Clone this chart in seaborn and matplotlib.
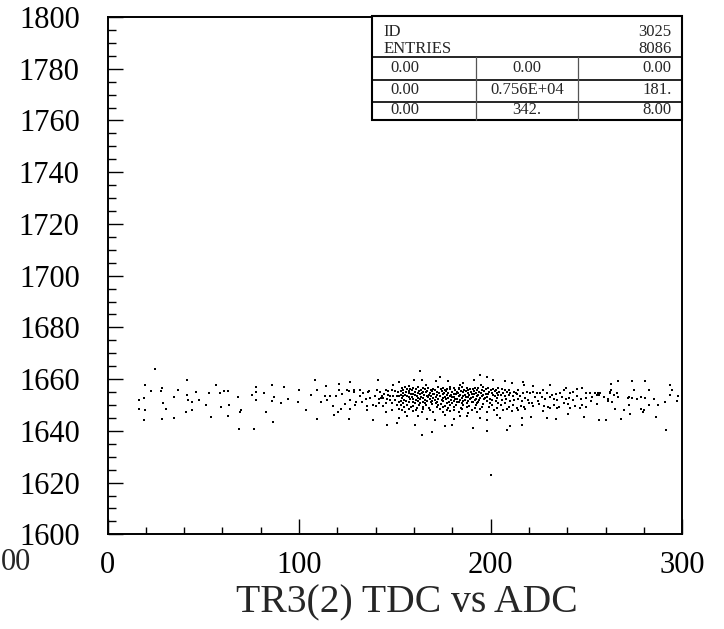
import numpy as np
import pandas as pd
import matplotlib
matplotlib.use("Agg")
import matplotlib.pyplot as plt
from matplotlib.lines import Line2D
from matplotlib.patches import Rectangle
from matplotlib.ticker import MultipleLocator
import seaborn as sns

# --- DATA (ADC, TDC), grouped by x region ---
pts_far_left = [
    (24.8, 1664.0), (41.3, 1659.5), (19.6, 1657.6), (28.3, 1656.4), (22.7, 1655.3),
    (27.8, 1655.5), (36.6, 1655.8), (46.2, 1654.9), (41.7, 1653.8), (34.6, 1653.2),
    (18.9, 1652.8), (16.6, 1652.1), (42.2, 1651.8), (44.1, 1651.3), (47.8, 1652.1),
    (29.2, 1650.8), (30.7, 1648.6), (16.6, 1648.5), (19.6, 1648.2), (44.0, 1648.0),
    (40.8, 1647.1), (34.6, 1644.9), (28.3, 1644.4), (19.1, 1644.1),
]
pts_left = [
    (56.7, 1657.6), (52.8, 1654.5), (58.7, 1654.5), (60.7, 1655.5), (62.9, 1655.5),
    (68.0, 1653.2), (51.4, 1650.1), (59.3, 1649.1), (63.4, 1649.9), (54.0, 1645.5),
    (62.7, 1645.6), (69.7, 1648.0), (69.2, 1647.1), (68.7, 1640.9), (77.5, 1657.1),
    (77.5, 1655.1), (75.5, 1653.7), (77.4, 1651.8), (81.7, 1654.5), (85.9, 1657.6),
    (86.9, 1653.2), (85.9, 1651.5), (92.2, 1657.1), (94.1, 1652.4), (90.4, 1650.6),
    (99.3, 1651.3), (100.2, 1655.8), (82.8, 1647.3), (86.2, 1643.5), (76.5, 1640.6),
]
pts_mid = [
    (108.3, 1659.7), (126.6, 1658.8), (141.2, 1659.7), (114.3, 1657.2), (120.9, 1658.2),
    (106.2, 1654.0), (109.2, 1655.9), (113.7, 1653.3), (116.2, 1653.3), (119.3, 1653.3),
    (121.0, 1655.6), (122.6, 1654.2), (124.9, 1655.9), (126.3, 1655.3), (128.4, 1655.6),
    (128.9, 1654.9), (131.8, 1655.6), (133.6, 1654.6), (131.8, 1653.3), (136.7, 1655.5),
    (136.2, 1654.9), (140.5, 1655.6), (142.3, 1654.9), (145.1, 1655.9), (146.5, 1655.3),
    (148.4, 1655.6), (149.8, 1655.3), (151.5, 1655.0), (152.2, 1658.8), (148.9, 1657.8),
    (144.5, 1654.2), (143.1, 1653.6), (146.6, 1654.0), (147.5, 1653.3), (149.2, 1653.3),
    (151.0, 1653.3), (152.2, 1653.3), (141.8, 1652.4), (142.8, 1652.7), (144.0, 1652.7),
    (145.8, 1652.3), (147.5, 1652.1), (150.1, 1651.8), (152.0, 1651.2), (111.6, 1651.0),
    (114.4, 1651.8), (124.2, 1650.5), (126.6, 1652.1), (129.6, 1651.0), (132.9, 1651.0),
    (135.0, 1652.3), (137.1, 1652.7), (139.7, 1653.3), (145.4, 1650.8), (148.4, 1650.8),
    (151.0, 1650.1), (140.0, 1649.7), (141.8, 1650.8), (135.3, 1649.5), (117.6, 1649.5),
    (122.1, 1648.5), (120.3, 1647.3), (126.6, 1648.5), (129.2, 1649.9), (135.3, 1648.2),
    (138.4, 1650.1), (144.0, 1649.5), (145.2, 1647.3), (148.4, 1648.2), (152.2, 1648.6),
    (103.5, 1648.2), (109.2, 1644.4), (118.1, 1646.0), (126.1, 1644.7), (138.4, 1644.1),
    (145.8, 1642.4), (151.0, 1643.1), (152.2, 1645.0),
]
pts_core = [
    (153.6, 1656.5), (155.3, 1656.8), (157.9, 1656.3), (159.7, 1656.6), (162.3, 1656.9),
    (164.9, 1656.4), (167.5, 1656.7), (170.1, 1656.2), (172.7, 1656.9), (175.3, 1656.5),
    (177.1, 1656.3), (178.8, 1656.8), (180.6, 1656.6), (183.2, 1656.4), (184.9, 1657.0),
    (187.5, 1656.5), (189.3, 1656.2), (191.9, 1656.7), (193.6, 1656.4), (196.2, 1656.9),
    (198.8, 1656.6), (201.4, 1656.3), (204.0, 1656.5),
    (154.4, 1655.9), (156.5, 1656.1), (158.8, 1655.7), (161.1, 1656.0), (163.5, 1655.8),
    (165.8, 1656.2), (168.7, 1655.6), (171.0, 1655.9), (173.9, 1656.1), (176.2, 1655.7),
    (178.5, 1656.0), (181.4, 1655.8), (183.7, 1656.2), (186.1, 1655.6), (188.4, 1655.9),
    (190.6, 1656.1), (192.7, 1655.7), (195.3, 1655.9), (197.6, 1656.0), (200.0, 1655.8),
    (202.8, 1655.6),
    (153.0, 1655.3), (155.8, 1655.1), (157.6, 1655.4), (160.5, 1655.2), (162.8, 1655.5),
    (164.5, 1655.0), (167.0, 1655.3), (169.6, 1655.4), (171.8, 1655.1), (174.5, 1655.3),
    (176.7, 1655.5), (179.7, 1655.2), (182.3, 1655.0), (184.6, 1655.4), (187.0, 1655.3),
    (189.6, 1655.1), (191.3, 1655.5), (194.1, 1655.2), (196.6, 1655.3), (199.3, 1655.0),
    (202.0, 1655.4), (204.4, 1655.2),
    (154.1, 1654.6), (157.1, 1654.8), (159.3, 1654.4), (161.8, 1654.7), (164.0, 1654.5),
    (166.3, 1654.9), (168.4, 1654.6), (170.5, 1654.3), (173.2, 1654.7), (175.7, 1654.5),
    (177.9, 1654.8), (180.6, 1654.4), (182.8, 1654.6), (185.4, 1654.9), (187.9, 1654.5),
    (190.1, 1654.3), (192.4, 1654.7), (194.8, 1654.6), (197.3, 1654.4), (200.6, 1654.8),
    (203.2, 1654.5),
    (153.2, 1654.0), (155.3, 1653.8), (158.3, 1654.2), (160.4, 1653.9), (163.1, 1654.1),
    (165.2, 1653.7), (167.7, 1654.0), (169.8, 1654.2), (172.2, 1653.8), (175.0, 1654.1),
    (177.4, 1653.9), (179.2, 1654.0), (181.9, 1654.2), (184.0, 1653.7), (186.6, 1654.0),
    (188.9, 1653.9), (191.3, 1654.2), (193.6, 1653.8), (196.2, 1654.0), (198.5, 1654.1),
    (201.4, 1653.8), (204.0, 1654.0),
    (154.4, 1653.3), (156.2, 1653.5), (158.8, 1653.1), (161.4, 1653.4), (163.7, 1653.2),
    (166.6, 1653.6), (169.1, 1653.3), (171.5, 1653.0), (173.6, 1653.4), (176.2, 1653.2),
    (178.5, 1653.5), (180.9, 1653.1), (183.2, 1653.3), (185.8, 1653.6), (188.4, 1653.2),
    (190.6, 1653.0), (193.1, 1653.4), (195.5, 1653.3), (198.0, 1653.1), (202.3, 1653.4),
    (153.6, 1652.7), (157.4, 1652.9), (159.7, 1652.5), (162.3, 1652.8), (164.9, 1652.6),
    (167.5, 1653.0), (170.1, 1652.7), (172.7, 1652.4), (175.3, 1652.8), (177.6, 1652.6),
    (180.0, 1652.9), (182.6, 1652.5), (184.9, 1652.7), (187.2, 1653.0), (189.8, 1652.6),
    (192.4, 1652.4), (194.5, 1652.8), (197.1, 1652.7), (199.7, 1652.5), (203.5, 1652.8),
    (154.8, 1652.1), (157.9, 1652.3), (160.9, 1651.9), (163.1, 1652.2), (165.9, 1652.0),
    (168.4, 1652.4), (171.0, 1652.1), (174.5, 1651.8), (176.7, 1652.2), (179.2, 1652.0),
    (181.4, 1652.3), (184.0, 1651.9), (186.6, 1652.1), (189.3, 1652.4), (191.9, 1652.0),
    (194.1, 1651.8), (196.6, 1652.2), (200.6, 1652.1),
    (153.0, 1651.4), (155.8, 1651.6), (159.3, 1651.2), (161.8, 1651.5), (164.5, 1651.3),
    (167.0, 1651.7), (169.4, 1651.4), (172.2, 1651.1), (175.3, 1651.5), (178.3, 1651.3),
    (180.6, 1651.6), (183.3, 1651.2), (185.8, 1651.4), (188.4, 1651.7), (191.0, 1651.3),
    (193.6, 1651.1), (198.3, 1651.5), (202.8, 1651.4),
    (154.1, 1650.8), (157.1, 1651.0), (160.5, 1650.6), (163.1, 1650.9), (165.8, 1650.7),
    (168.7, 1651.1), (171.5, 1650.8), (173.9, 1650.5), (177.1, 1650.9), (179.7, 1650.7),
    (182.3, 1651.0), (185.1, 1650.6), (187.5, 1650.8), (190.1, 1651.1), (192.7, 1650.7),
    (196.2, 1650.5), (199.7, 1650.9), (204.0, 1650.8),
    (153.2, 1649.9), (156.2, 1650.1), (159.7, 1649.7), (162.8, 1650.0), (166.3, 1649.8),
    (169.2, 1650.2), (172.7, 1649.9), (175.9, 1649.6), (178.8, 1650.0), (181.9, 1649.8),
    (185.4, 1650.1), (188.9, 1649.7), (192.4, 1649.9), (195.9, 1650.2), (200.6, 1649.8),
    (154.8, 1649.1), (158.4, 1649.3), (161.4, 1648.9), (164.9, 1649.2), (168.0, 1649.0),
    (171.8, 1649.4), (175.0, 1649.1), (177.9, 1648.8), (181.1, 1649.2), (184.4, 1649.0),
    (187.5, 1649.3), (191.9, 1648.9), (195.3, 1649.1), (199.3, 1649.4), (203.5, 1649.0),
    (153.6, 1648.2), (157.6, 1648.4), (161.1, 1648.0), (164.5, 1648.3), (168.4, 1648.1),
    (173.6, 1648.5), (177.1, 1648.2), (180.6, 1647.9), (184.9, 1648.3), (190.1, 1648.1),
    (194.5, 1648.4), (201.8, 1648.2),
    (155.3, 1647.3), (159.7, 1647.5), (164.0, 1647.1), (170.1, 1647.4), (175.3, 1647.2),
    (178.8, 1647.6), (183.2, 1647.3), (188.4, 1647.0), (192.7, 1647.4), (198.3, 1647.3),
]
pts_core_out = [
    (163.1, 1663.2), (173.6, 1661.0), (194.5, 1661.7), (198.3, 1661.0), (201.4, 1659.7),
    (164.0, 1659.7), (160.2, 1659.5), (171.5, 1659.1), (177.9, 1659.1), (184.0, 1657.8),
    (191.3, 1659.5), (195.0, 1657.8), (157.4, 1657.4), (166.3, 1657.8), (185.8, 1658.5),
    (156.2, 1645.9), (160.5, 1642.4), (166.6, 1644.4), (171.0, 1644.0), (176.2, 1646.3),
    (180.6, 1644.6), (184.0, 1645.6), (187.5, 1645.9), (191.0, 1641.2), (194.5, 1645.0),
    (198.3, 1644.0), (203.5, 1646.3), (169.2, 1639.5), (164.4, 1638.2), (198.0, 1640.1),
    (179.7, 1642.1), (176.2, 1641.8), (162.3, 1645.6), (200.1, 1622.9),
]
pts_right = [
    (205.8, 1656.1), (207.5, 1655.6), (209.3, 1655.9), (206.6, 1654.6), (208.4, 1655.0),
    (210.1, 1654.6), (211.9, 1655.2), (213.3, 1654.8), (214.5, 1655.6), (205.4, 1653.9),
    (207.5, 1653.5), (209.8, 1653.9), (211.5, 1653.3), (213.6, 1654.2), (215.3, 1653.3),
    (217.1, 1654.6), (218.8, 1655.2), (220.6, 1654.8), (222.3, 1655.2), (224.0, 1654.6),
    (225.8, 1654.8), (227.5, 1655.6), (229.6, 1654.6), (231.9, 1653.9), (234.1, 1654.3),
    (236.2, 1654.8), (238.0, 1655.6), (239.4, 1656.5), (241.5, 1654.6), (243.2, 1655.2),
    (245.3, 1656.1), (247.5, 1656.5), (249.5, 1654.6), (251.9, 1654.8), (254.5, 1654.6),
    (256.2, 1654.8), (205.8, 1652.0), (208.0, 1652.3), (210.1, 1651.4), (212.2, 1652.0),
    (214.5, 1652.3), (216.2, 1651.4), (217.9, 1652.6), (219.7, 1652.0), (221.4, 1650.7),
    (223.2, 1653.0), (224.9, 1651.4), (226.7, 1653.0), (228.4, 1652.3), (230.7, 1653.0),
    (232.8, 1652.3), (234.8, 1652.0), (237.1, 1653.0), (239.4, 1652.3), (241.1, 1652.6),
    (243.2, 1652.0), (244.9, 1653.3), (247.2, 1652.3), (249.8, 1652.6), (252.8, 1653.0),
    (255.4, 1653.9), (205.4, 1650.1), (207.5, 1650.7), (209.3, 1649.4), (211.5, 1650.1),
    (213.6, 1648.8), (215.7, 1649.7), (217.4, 1649.2), (220.2, 1650.7), (222.3, 1649.7),
    (225.4, 1650.5), (227.9, 1649.7), (230.1, 1649.2), (232.8, 1650.1), (235.4, 1649.4),
    (238.0, 1650.7), (240.6, 1650.5), (244.1, 1649.7), (247.5, 1650.1), (249.8, 1649.2),
    (252.2, 1651.4), (255.7, 1650.5), (206.3, 1648.1), (208.7, 1648.4), (211.0, 1647.5),
    (214.5, 1648.1), (217.9, 1648.4), (227.5, 1647.5), (231.0, 1648.8), (234.5, 1648.8),
    (241.5, 1648.8), (246.7, 1648.8), (204.9, 1644.9), (210.1, 1641.9), (208.7, 1640.4),
    (216.2, 1644.9), (216.2, 1642.3), (220.9, 1645.3), (229.6, 1644.9), (234.1, 1644.5),
    (240.6, 1646.6), (248.9, 1645.3), (256.6, 1644.0), (207.5, 1659.1), (217.1, 1658.7),
    (217.4, 1657.8), (222.0, 1657.5), (230.7, 1657.8), (211.3, 1658.4),
]
pts_far_right = [
    (262.8, 1658.2), (266.6, 1659.1), (273.7, 1659.1), (280.7, 1659.3), (293.8, 1657.8),
    (256.9, 1654.6), (256.3, 1653.9), (258.9, 1653.0), (262.3, 1655.2), (263.0, 1655.6),
    (262.1, 1654.6), (264.2, 1653.9), (265.9, 1654.6), (266.4, 1652.9), (271.5, 1652.6),
    (272.0, 1652.9), (273.7, 1652.6), (275.0, 1655.9), (276.4, 1652.4), (278.4, 1652.9),
    (280.7, 1652.6), (282.8, 1655.6), (285.1, 1652.4), (294.6, 1655.6), (293.4, 1653.9),
    (297.6, 1653.5), (297.4, 1651.4), (291.2, 1651.0), (287.3, 1649.8), (282.8, 1649.8),
    (278.4, 1648.5), (279.8, 1647.9), (279.5, 1647.1), (272.0, 1650.1), (269.4, 1648.1),
    (264.7, 1648.4), (261.0, 1652.3), (261.2, 1651.4), (263.3, 1651.0), (256.7, 1644.0),
    (260.2, 1644.0), (268.2, 1644.5), (272.5, 1646.6), (286.5, 1645.3), (291.7, 1640.4),
]

stats_id = "3025"
stats_entries = "8086"
stats_rows = [
    ["0.00", "0.00", "0.00"],
    ["0.00", "0.756E+04", "181."],
    ["0.00", "342.", "8.00"],
]
x_label = "TR3(2) TDC vs ADC"
edge_label = "00"  # remnant of a neighbouring zone's tick label at the left edge

all_pts = pts_far_left + pts_left + pts_mid + pts_core + pts_core_out + pts_right + pts_far_right
df = pd.DataFrame(all_pts, columns=["adc", "tdc"])

# --- STYLE ---
sns.set_theme(style="white")
plt.rcParams["font.family"] = ["Liberation Serif", "DejaVu Serif"]
plt.rcParams["axes.edgecolor"] = "black"

W, H = 724, 629
fig = plt.figure(figsize=(W / 100, H / 100), dpi=100)
ax = fig.add_axes([107.5 / W, 1 - 534.3 / H, (682.3 - 107.5) / W, (534.3 - 17) / H])

sns.scatterplot(data=df, x="adc", y="tdc", ax=ax, marker="s", s=1.1,
                color="black", linewidth=0, legend=False)

ax.set_xlim(0, 300)
ax.set_ylim(1600, 1800)
ax.xaxis.set_major_locator(MultipleLocator(100))
ax.xaxis.set_minor_locator(MultipleLocator(20))
ax.yaxis.set_major_locator(MultipleLocator(20))
ax.yaxis.set_minor_locator(MultipleLocator(5))
ax.tick_params(which="both", direction="in", left=True, bottom=True, top=False, right=False,
               colors="black", width=1.0)
ax.tick_params(axis="y", which="major", length=10.5, pad=20, labelsize=22)
ax.tick_params(axis="y", which="minor", length=5.5)
ax.tick_params(axis="x", which="major", length=10.5, pad=12, labelsize=22)
ax.tick_params(axis="x", which="minor", length=5)
for sp in ax.spines.values():
    sp.set_linewidth(1.4)
    sp.set_color("black")
ax.set_xlabel("")
ax.set_ylabel("")

fig.text(407 / W, 1 - 603 / H, x_label, ha="center", va="center", fontsize=28.5)
fig.text(0.5 / W, 1 - 562 / H, edge_label, ha="left", va="center", fontsize=22)

# --- STATISTICS BOX ---
def fx(px):
    return px / W

def fy(py):
    return 1 - py / H

bx0, bx1, by0, by1 = 371.7, 682.3, 16.5, 119.5
fig.add_artist(Rectangle((fx(bx0), fy(by1)), fx(bx1) - fx(bx0), fy(by0) - fy(by1),
                         transform=fig.transFigure, facecolor="white",
                         edgecolor="black", linewidth=1.5, zorder=5))
for ly in (57.3, 79.5, 101.5):
    fig.add_artist(Line2D([fx(bx0), fx(bx1)], [fy(ly), fy(ly)], transform=fig.transFigure,
                          color="black", linewidth=1.2, zorder=6))
for lx in (476, 578):
    fig.add_artist(Line2D([fx(lx), fx(lx)], [fy(57.3), fy(by1)], transform=fig.transFigure,
                          color="#555555", linewidth=0.9, zorder=6))

tkw = dict(fontsize=12, va="center", zorder=7)
fig.text(fx(383.3), fy(32.3), "ID", ha="left", **tkw)
fig.text(fx(671.7), fy(32.3), stats_id, ha="right", **tkw)
fig.text(fx(383.3), fy(49), "ENTRIES", ha="left", **tkw)
fig.text(fx(671.7), fy(49), stats_entries, ha="right", **tkw)
for ry, row in zip((68.5, 90.5, 109.5), stats_rows):
    fig.text(fx(390), fy(ry), row[0], ha="left", **tkw)
    fig.text(fx(527), fy(ry), row[1], ha="center", **tkw)
    fig.text(fx(671.7), fy(ry), row[2], ha="right", **tkw)

fig.savefig("out.png", dpi=100)
